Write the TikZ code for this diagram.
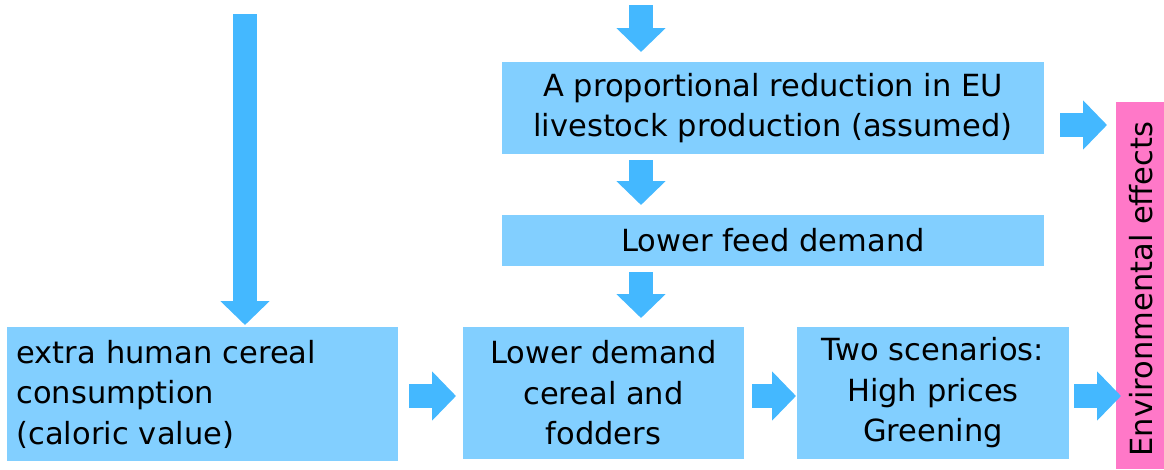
\documentclass[tikz,border=0pt]{standalone}
\usepackage{fontspec}
\setmainfont{DejaVu Sans}
\usetikzlibrary{arrows.meta}
\definecolor{boxblue}{HTML}{82CFFF}
\definecolor{arrowblue}{HTML}{44B8FF}
\definecolor{effpink}{HTML}{FF78C8}
\begin{document}
\begin{tikzpicture}[x=1pt,y=-1pt,
  every node/.style={inner sep=0pt, outer sep=0pt, font=\fontsize{30.5}{40.5}\selectfont},
  box/.style={fill=boxblue, anchor=north west, align=center},
  blk/.style={draw=arrowblue, line width=24pt,
    -{Triangle[width=48pt,length=24pt]}, arrowblue}]
\useasboundingbox (0,0) rectangle (1164,469);

% boxes
\node[box, minimum width=542pt, minimum height=92pt] (prod) at (502,62)
  {A proportional reduction in EU\\livestock production (assumed)};
\node[box, minimum width=542pt, minimum height=51pt] (feed) at (502,215)
  {Lower feed demand};
\node[box, minimum width=391pt, minimum height=134pt, align=left,
  text width=372pt, inner xsep=9.5pt] (human) at (7,327)
  {extra human cereal\\consumption\\(caloric value)};
\node[box, minimum width=281pt, minimum height=132pt] (cereal) at (463,327)
  {Lower demand\\cereal and\\fodders};
\node[box, minimum width=272pt, minimum height=132pt] (scen) at (797,327)
  {Two scenarios:\\High prices\\Greening};
\node[fill=effpink, anchor=north west, minimum width=48pt, minimum height=367pt]
  (env) at (1116,102) {};
\node[rotate=90] (envtext) at (1141,289) {Environmental effects};

% free ends of the two incoming arrows
\coordinate (incol) at (641,5);
\coordinate (humcol) at (245,14);
\coordinate (toprow) at (0,125);
\coordinate (botrow) at (0,396);

% arrows
\draw[blk, shorten >=10pt] (incol) -- (incol |- prod.north);
\draw[blk, shorten >=2pt] (humcol) -- (humcol |- human.north);
\draw[blk, shorten <=6pt, shorten >=10pt] (incol |- prod.south) -- (incol |- feed.north);
\draw[blk, shorten <=6pt, shorten >=9pt] (incol |- feed.south) -- (incol |- cereal.north);
\draw[blk, shorten <=11pt, shorten >=7pt] (human.east |- botrow) -- (cereal.west |- botrow);
\draw[blk, shorten <=8pt, shorten >=1pt] (cereal.east |- botrow) -- (scen.west |- botrow);
\draw[blk, shorten <=5pt, shorten >=-5pt] (scen.east |- botrow) -- (env.west |- botrow);
\draw[blk, shorten <=16pt, shorten >=9pt] (prod.east |- toprow) -- (env.west |- toprow);
\end{tikzpicture}
\end{document}
